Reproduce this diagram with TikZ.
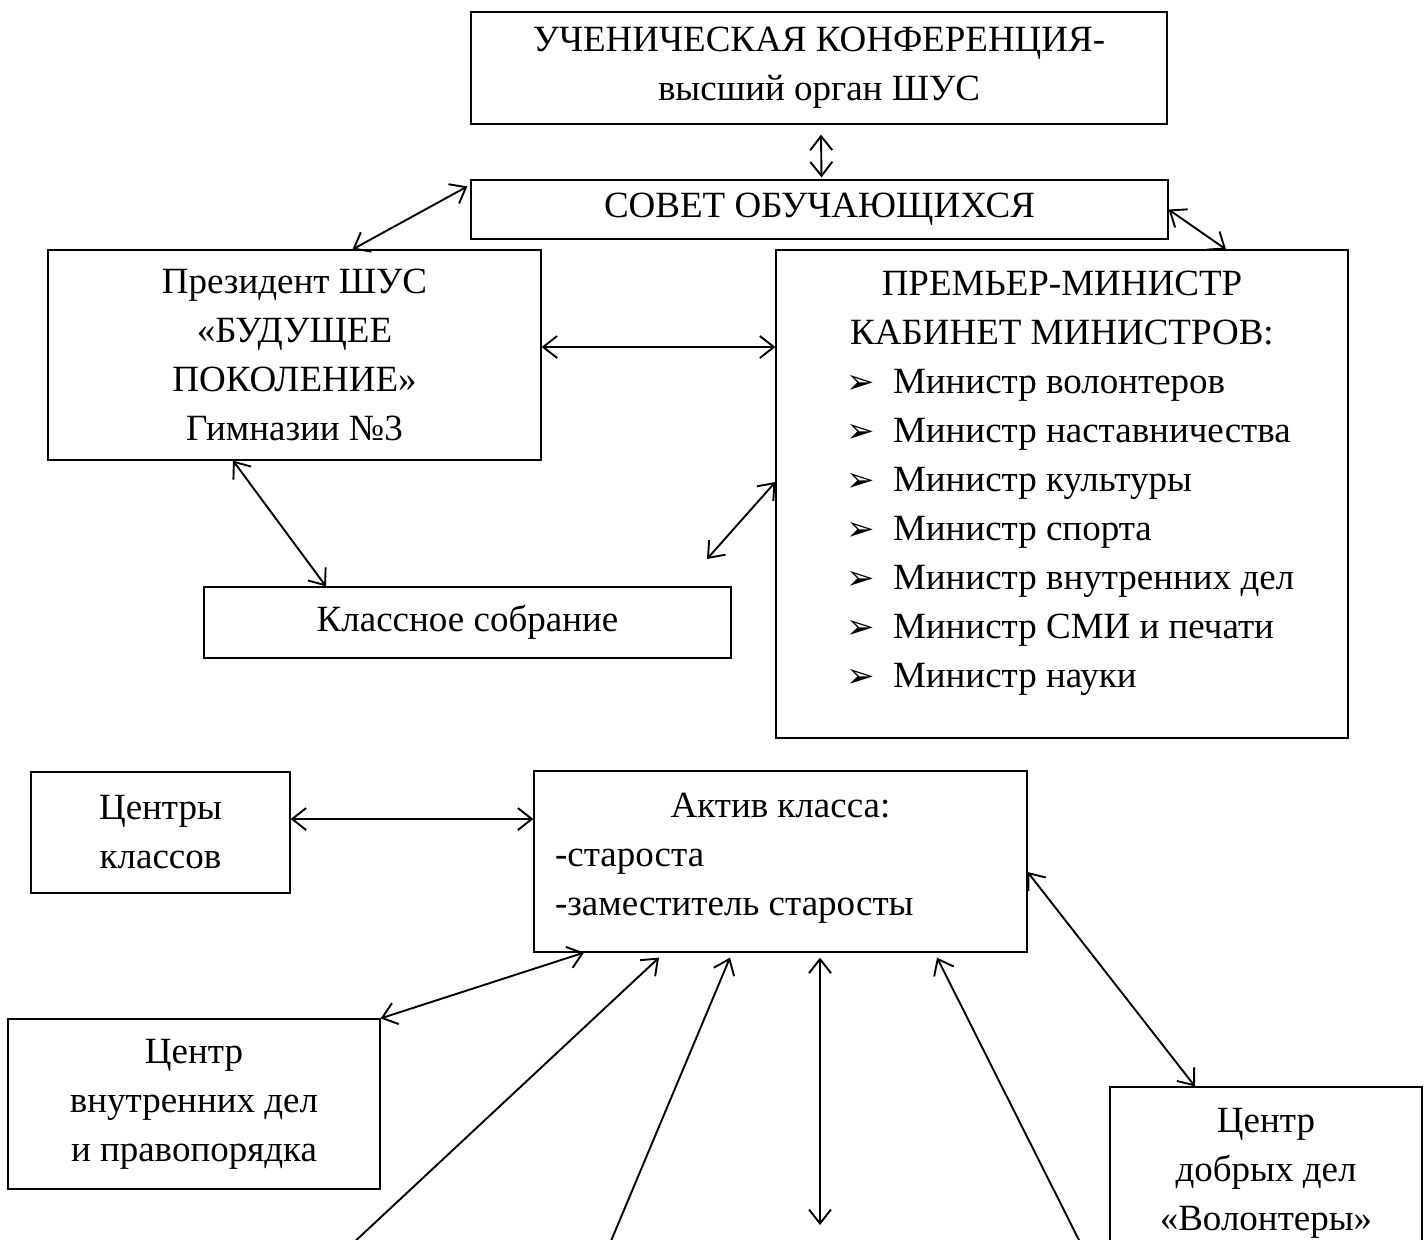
\documentclass[tikz,border=0pt]{standalone}
\usepackage{fontspec}
\setmainfont{Liberation Serif}
\newfontfamily\dejavu{DejaVu Sans}
\usetikzlibrary{arrows.meta}
\newcommand{\bul}[1]{\makebox[286pt][l]{\hspace*{35pt}\makebox[23.5pt][l]{\dejavu\fontsize{17pt}{17pt}\selectfont ➢}#1}}

\begin{document}
\begin{tikzpicture}[x=0.5pt, y=-0.5pt,
    box/.style={draw, line width=0.6pt, align=center, inner sep=2pt},
    link/.style={line width=0.95pt},
    >={Straight Barb[length=7pt,width=11pt]},
    font=\fontsize{18.5pt}{24.5pt}\selectfont]
      \useasboundingbox (0,0) rectangle (1426,1239);
      \node[box, minimum width=348pt, minimum height=56pt] (UK) at (819,68) {УЧЕНИЧЕСКАЯ КОНФЕРЕНЦИЯ-\\высший орган ШУС};
      \node[box, minimum width=348.5pt, minimum height=29.5pt] (SO) at (819.5,209.5) {СОВЕТ ОБУЧАЮЩИХСЯ};
      \node[box, minimum width=246.5pt, minimum height=105pt] (PR) at (294.5,355) {Президент ШУС\\«БУДУЩЕЕ\\ПОКОЛЕНИЕ»\\Гимназии №3};
      \node[box, inner sep=0pt] (PM) at (1062,494) {\parbox[c][244pt][t]{286pt}{\vspace*{10.3pt}\centering
        ПРЕМЬЕР-МИНИСТР\\
        КАБИНЕТ МИНИСТРОВ:\\
        \bul{Министр волонтеров}\\
        \bul{Министр наставничества}\\
        \bul{Министр культуры}\\
        \bul{Министр спорта}\\
        \bul{Министр внутренних дел}\\
        \bul{Министр СМИ и печати}\\
        \bul{Министр науки}}};
      \node[box, minimum width=263.5pt, minimum height=35.5pt] (KS) at (467.5,622.5) {Классное собрание};
      \node[box, minimum width=129.5pt, minimum height=60.5pt] (CK) at (160.5,832.5) {Центры\\классов};
      \node[box, inner sep=0pt] (AK) at (780.5,861.5) {\parbox[c][90.5pt][t]{246.5pt}{\vspace*{10.9pt}\centering
        Актив класса:\par
        \raggedright\leftskip=10.5pt
        -староста\\
        -заместитель старосты}};
      \node[box, minimum width=186pt, minimum height=85pt] (CV) at (194,1104) {Центр\\внутренних дел\\ и правопорядка};
      \node[box, minimum width=156pt, minimum height=86pt] (CD) at (1266,1173) {Центр\\добрых дел\\«Волонтеры»};
      % free ends
      \coordinate (F1) at (707,559);
      \coordinate (B1) at (335,1260);
      \coordinate (B2) at (603,1260);
      \coordinate (B3) at (820,1225);
      \coordinate (B4) at (1089,1260);
      \draw[link, <->] ([xshift=1pt,yshift=-5pt]UK.south) -- ([xshift=1pt,yshift=1pt]SO.north);
      \draw[link, <->] ([xshift=29pt]PR.north) -- ([xshift=-1.5pt,yshift=-3.5pt]SO.north west);
      \draw[link, <->] (SO.east) -- ([xshift=82pt]PM.north);
      \draw[link, <->] ([yshift=4pt]PR.east) -- ([yshift=73.5pt]PM.west);
      \draw[link, <->] ([xshift=-30.75pt]PR.south) -- ([xshift=-70.75pt]KS.north);
      \draw[link, <->] ([yshift=6pt]PM.west) -- (F1);
      \draw[link, <->] ([yshift=6.75pt]CK.east) -- ([yshift=21.25pt]AK.west);
      \draw[link, <->] (CV.north east) -- ([xshift=-98.25pt]AK.south);
      \draw[link, ->] (B1) -- ([xshift=-60.75pt,yshift=-2.5pt]AK.south);
      \draw[link, ->] (B2) -- ([xshift=-25.25pt,yshift=-2.5pt]AK.south);
      \draw[link, <->] ([xshift=19.75pt,yshift=-2.5pt]AK.south) -- (B3);
      \draw[link, ->] (B4) -- ([xshift=78.25pt,yshift=-2.5pt]AK.south);
      \draw[link, <->] ([yshift=-5.25pt]AK.east) -- ([xshift=-35.5pt]CD.north);
    \end{tikzpicture}
\end{document}
